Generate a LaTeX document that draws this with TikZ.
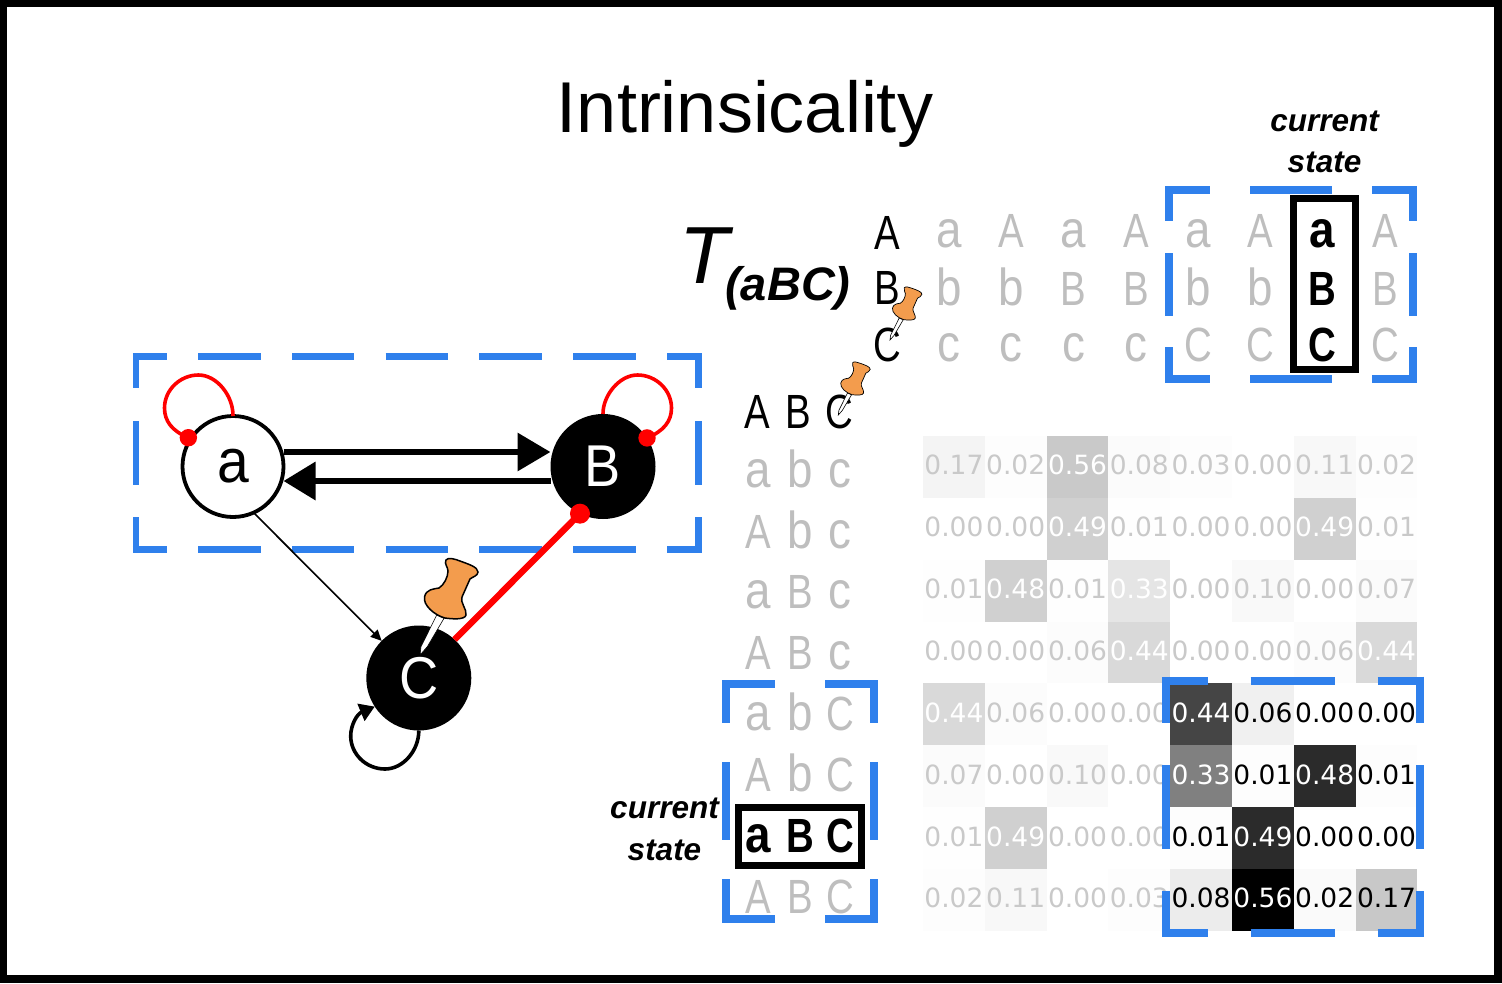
\documentclass[tikz,border=0pt]{standalone}
\usepackage{fontspec}
\setmainfont{Liberation Sans}
\newfontfamily\lab[FakeStretch=0.8]{Liberation Sans}
\newfontfamily\lclab[FakeStretch=0.88]{Liberation Sans}
\newfontfamily\unitlab[FakeStretch=0.92]{Liberation Sans}
\newfontfamily\num{DejaVu Sans}
\usetikzlibrary{arrows.meta}
\definecolor{bluedash}{HTML}{2F80EC}
\definecolor{lettergrey}{HTML}{BEBEBE}
\definecolor{numgrey}{HTML}{C9C9C9}
\definecolor{pinorange}{HTML}{F39C4D}
\newcommand{\lc}{\lclab\fontsize{52}{52}\selectfont}
\tikzset{
  bluebar/.style={draw=bluedash,line width=#1,line cap=butt,line join=miter},
  lbl/.style={anchor=base,inner sep=0pt,outer sep=0pt,text=lettergrey,font=\lab\fontsize{48}{48}\selectfont},
  hdr/.style={lbl,text=black},
  boldlbl/.style={lbl,text=black,font=\lab\bfseries\fontsize{48}{48}\selectfont},
  cellbox/.style={inner sep=0pt,outer sep=0pt,minimum width=61.9pt,minimum height=61.9pt,text height=16pt,text depth=0pt,font=\num\fontsize{26.5}{26.5}\selectfont},
  curlbl/.style={anchor=base,inner sep=0pt,font=\bfseries\itshape\fontsize{31.5}{31.5}\selectfont},
  unit/.style={circle,inner sep=0pt,outer sep=0pt,minimum size=105pt,font=\unitlab\fontsize{59}{59}\selectfont},
  selfloop/.style={line width=3.6pt},
  currentbox/.style={draw=black,line width=7pt,line join=miter}
}
\newcommand{\pushpin}[4]{%
  \begin{scope}[shift={(#1,#2)},x=#3pt,y=-#3pt]
    \draw[black,line width=0.6pt,fill=white] (16.7,-40) -- (1,-8.3) -- (0,0) -- (7.3,-8.3) -- (24,-36.7) -- cycle;
    \draw[black,line width=#4pt,fill=pinorange] (26,-95) .. controls (28,-98) and (35,-96) .. (40,-94) .. controls (48,-91) and (58,-88) .. (58,-83) .. controls (58,-79) and (52,-78) .. (50,-76) -- (42,-58) .. controls (40,-52) and (47,-46) .. (46,-40) .. controls (45,-35) and (32,-36) .. (25,-37) .. controls (14,-40) and (3,-50) .. (4.5,-58) .. controls (6,-66) and (14,-66) .. (19,-67) .. controls (24,-70) and (28,-78) .. (28,-84) .. controls (28,-88) and (24,-91) .. (26,-95) -- cycle;
  \end{scope}}
\begin{document}
\begin{tikzpicture}[x=1pt,y=-1pt]
\useasboundingbox (0,0) rectangle (1502,983);
\fill[white] (0,0) rectangle (1502,983);

% title
\node[anchor=base,inner sep=0pt,font=\fontsize{72}{72}\selectfont] (title) at (745,132.5) {Intrinsicality};
\node[anchor=base,inner sep=0pt,font=\itshape\fontsize{81}{81}\selectfont] (tee) at (704,283) {T};
\node[anchor=base,inner sep=0pt,font=\bfseries\itshape\fontsize{47}{47}\selectfont] (tsub) at (788,300) {(aBC)};

% left blue box
\foreach \a/\b in {167.3/132.8,260.7/198.3,354.3/292,448.3/385.7,541.7/479.3,635.7/573.3,701.7/667}{
  \draw[bluebar=6.6pt] (\b,356.3) -- (\a,356.3);
  \draw[bluebar=6.6pt] (\b,549.3) -- (\a,549.3);
}
\foreach \a/\b in {353/388.3,421/485,517.3/552.6}{
  \draw[bluebar=6.6pt] (136,\a) -- (136,\b);
  \draw[bluebar=6.6pt] (698.3,\a) -- (698.3,\b);
}

% units
\node[unit,draw=black,line width=3.8pt,fill=white,minimum size=101pt,font=\unitlab\fontsize{62}{62}\selectfont] (a) at (233,466.5) {a};
\node[unit,fill=black,text=white] (B) at (603,466.5) {B};
\node[unit,fill=black,text=white] (C) at (418.8,678) {C};

% connectors
\draw[black,line width=6.4pt,-{Triangle[length=33pt,width=37pt]}] ([yshift=14.5pt]a.east) -- ([yshift=14.5pt]B.west);
\draw[black,line width=6.4pt,-{Triangle[length=32pt,width=37pt]}] ([yshift=-14.5pt]B.west) -- ([yshift=-14.5pt]a.east);
\draw[black,line width=1.6pt,-{Triangle[length=11pt,width=10pt]}] (a.-66) -- (C.135);
\draw[red,line width=6.4pt] (B.-116) -- (C.47);
\fill[red] (B.-116) circle[radius=10];

% self loops
\draw[red,selfloop] (a.90) .. controls (233.3,396) and (217,375) .. (198.5,375) .. controls (180,375) and (164.5,390) .. (164.5,408) .. controls (164.5,421) and (172,431) .. ([shift={(-2.3,-1.3)}]a.147);
\fill[red] ([shift={(-2.3,-1.3)}]a.147) circle[radius=8.7];
\draw[red,selfloop] (B.90) .. controls (602.7,396) and (619,375) .. (637.5,375) .. controls (656,375) and (671.5,390) .. (671.5,408) .. controls (671.5,421) and (664,431) .. (B.33);
\fill[red] (B.33) circle[radius=8.7];
\draw[black,selfloop,-{Triangle[length=15pt,width=18pt]}] (C.-90) .. controls (419,750) and (403.5,769) .. (385,769) .. controls (366,769) and (350.7,754) .. (350.7,736) .. controls (350.7,725) and (357,714) .. (C.213);

% top letter block
\node[hdr] (hA) at (887.5,249) {A};
\node[hdr] (hB) at (887.5,304) {B};
\node[hdr] (hC) at (887.5,361) {C};
\foreach \i/\x/\p/\q/\s in {1/948.8/{\lc a}/{\lc b}/{\lc c},2/1011/A/{\lc b}/{\lc c},3/1073.5/{\lc a}/B/{\lc c},4/1135.8/A/B/{\lc c},5/1198/{\lc a}/{\lc b}/C,6/1260.4/A/{\lc b}/C,8/1385/A/B/C}{
  \node[lbl] (tp\i) at (\x,247) {\p};
  \node[lbl] (tq\i) at (\x,305) {\q};
  \node[lbl] (ts\i) at (\x,361) {\s};
}
\node[boldlbl] (tp7) at (1322.7,247) {\lc a};
\node[boldlbl] (tq7) at (1322.7,305) {B};
\node[boldlbl] (ts7) at (1322.7,361) {C};
\draw[currentbox] (1293.5,198.5) rectangle (1355.5,369.5);

% top blue box
\foreach \a/\b in {1165/1209.7,1250.3/1331.7,1372.3/1417}{
  \draw[bluebar=8pt] (\a,190) -- (\b,190);
  \draw[bluebar=8pt] (\a,379) -- (\b,379);
}
\foreach \a/\b in {186/221,253/315.7,347.3/383}{
  \draw[bluebar=8pt] (1169,\a) -- (1169,\b);
  \draw[bluebar=8pt] (1413,\a) -- (1413,\b);
}
\node[curlbl] (cur1) at (1324.5,131.5) {current};
\node[curlbl] (sta1) at (1324.5,172.5) {state};

% left letter block
\node[hdr] (lA) at (757.7,428) {A};
\node[hdr] (lB) at (798,428) {B};
\node[hdr] (lC) at (839,428) {C};
\foreach \i/\y/\p/\q/\s in {1/487/{\lc a}/{\lc b}/{\lc c},2/548.5/A/{\lc b}/{\lc c},3/608.5/{\lc a}/B/{\lc c},4/669.5/A/B/{\lc c},5/730/{\lc a}/{\lc b}/C,6/791.5/A/{\lc b}/C,8/913.3/A/B/C}{
  \node[lbl] (lp\i) at (758,\y) {\p};
  \node[lbl] (lq\i) at (800,\y) {\q};
  \node[lbl] (ls\i) at (840,\y) {\s};
}
\node[boldlbl] (lp7) at (758,852) {\lc a};
\node[boldlbl] (lq7) at (800,852) {B};
\node[boldlbl] (ls7) at (840,852) {C};
\draw[currentbox] (738,807.3) rectangle (861.5,865);
\foreach \a/\b in {722/775.3,825/878}{
  \draw[bluebar=8pt] (\a,684) -- (\b,684);
  \draw[bluebar=8pt] (\a,918.7) -- (\b,918.7);
}
\foreach \a/\b in {680/722.7,762.3/840,879.3/922.7}{
  \draw[bluebar=8pt] (726,\a) -- (726,\b);
  \draw[bluebar=8pt] (874,\a) -- (874,\b);
}
\node[curlbl] (cur2) at (664.5,818.5) {current};
\node[curlbl] (sta2) at (664.5,860) {state};

% pins
\pushpin{420}{655}{1}{1.5}
\pushpin{890}{340}{0.55}{0.7}
\pushpin{838.3}{415}{0.55}{0.7}

% grid
\foreach \c/\r/\v/\p/\t in {
1/1/0.17/4.3/numgrey,2/1/0.02/0.8/numgrey,3/1/0.56/21/white,4/1/0.08/1.6/numgrey,5/1/0.03/0.8/numgrey,6/1/0.00/0/numgrey,7/1/0.11/2.7/numgrey,8/1/0.02/0.8/numgrey,
1/2/0.00/0/numgrey,2/2/0.00/0/numgrey,3/2/0.49/18.4/white,4/2/0.01/0.4/numgrey,5/2/0.00/0/numgrey,6/2/0.00/0/numgrey,7/2/0.49/18.4/white,8/2/0.01/0.4/numgrey,
1/3/0.01/0.4/numgrey,2/3/0.48/18.4/white,3/3/0.01/0.4/numgrey,4/3/0.33/10/white,5/3/0.00/0/numgrey,6/3/0.10/2.4/numgrey,7/3/0.00/0/numgrey,8/3/0.07/1.6/numgrey,
1/4/0.00/0/numgrey,2/4/0.00/0/numgrey,3/4/0.06/1.2/numgrey,4/4/0.44/15/white,5/4/0.00/0/numgrey,6/4/0.00/0/numgrey,7/4/0.06/1.2/numgrey,8/4/0.44/15/white,
1/5/0.44/15/white,2/5/0.06/1.2/numgrey,3/5/0.00/0/numgrey,4/5/0.00/0/numgrey,
1/6/0.07/1.6/numgrey,2/6/0.00/0/numgrey,3/6/0.10/2.4/numgrey,4/6/0.00/0/numgrey,
1/7/0.01/0.4/numgrey,2/7/0.49/18.4/white,3/7/0.00/0/numgrey,4/7/0.00/0/numgrey,
1/8/0.02/0.8/numgrey,2/8/0.11/2.7/numgrey,3/8/0.00/0/numgrey,4/8/0.03/0.8/numgrey,
5/5/0.44/73/white,6/5/0.06/6/black,7/5/0.00/0/black,8/5/0.00/0/black,
5/6/0.33/50/white,6/6/0.01/0.8/black,7/6/0.48/83/white,8/6/0.01/0.8/black,
5/7/0.01/0.8/black,6/7/0.49/83/white,7/7/0.00/0/black,8/7/0.00/0/black,
5/8/0.08/7.5/black,6/8/0.56/100/white,7/8/0.02/2/black,8/8/0.17/21.5/black}{
  \node[cellbox,fill=black!\p,text=\t] (cell\r\c) at ({923+61.8*(\c-.5)},{436+61.85*(\r-.5)}) {\v};
}

% bottom right blue box
\foreach \a/\b in {1162/1208,1250.7/1335,1377.7/1424}{
  \draw[bluebar=8pt] (\a,680.7) -- (\b,680.7);
  \draw[bluebar=8pt] (\a,933.3) -- (\b,933.3);
}
\foreach \a/\b in {676.7/722.7,765/848.7,891/937.3}{
  \draw[bluebar=8pt] (1166,\a) -- (1166,\b);
  \draw[bluebar=8pt] (1420,\a) -- (1420,\b);
}

% frame
\draw[black,line width=7.5pt] (3.5,3.5) rectangle (1498,979);
\end{tikzpicture}
\end{document}
